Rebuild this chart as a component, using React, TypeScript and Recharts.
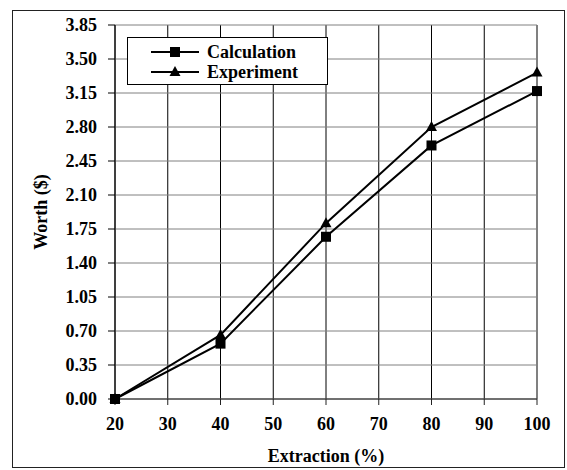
import { LineChart, Line, XAxis, YAxis, CartesianGrid, ReferenceLine } from "recharts";

const extraction = [20, 40, 60, 80, 100];
const calculation = [0, 0.57, 1.67, 2.61, 3.17];
const experiment = [0, 0.66, 1.81, 2.8, 3.36];

const xTicks = [20, 30, 40, 50, 60, 70, 80, 90, 100];
const yTicks = [0, 0.35, 0.7, 1.05, 1.4, 1.75, 2.1, 2.45, 2.8, 3.15, 3.5, 3.85];

const data = extraction.map((x, i) => ({
  x,
  calculation: calculation[i],
  experiment: experiment[i],
}));

const FONT = "'Liberation Serif', 'Times New Roman', serif";

const SquareDot = (props: any) => {
  const { cx, cy } = props;
  if (cx == null || cy == null) return null;
  return <rect key={`s-${cx}`} x={cx - 5} y={cy - 5} width={10} height={10} fill="#000" />;
};

const TriangleDot = (props: any) => {
  const { cx, cy } = props;
  if (cx == null || cy == null) return null;
  return (
    <path
      key={`t-${cx}`}
      d={`M${cx},${cy - 6} L${cx + 5.5},${cy + 4} L${cx - 5.5},${cy + 4} Z`}
      fill="#000"
    />
  );
};

function LegendBox() {
  const rows = [
    { name: "Calculation", shape: "square" },
    { name: "Experiment", shape: "triangle" },
  ];
  return (
    <div
      style={{
        position: "absolute",
        left: 127,
        top: 37,
        width: 199,
        height: 46,
        border: "1px solid #000",
        background: "#fff",
        fontFamily: FONT,
        fontWeight: "bold",
        fontSize: 18,
      }}
    >
      {rows.map((r, i) => (
        <div key={r.name} style={{ position: "absolute", left: 0, top: 4 + i * 20, height: 20, display: "flex", alignItems: "center" }}>
          <svg width={76} height={20} style={{ display: "block" }}>
            <line x1={23} y1={10} x2={71} y2={10} stroke="#000" strokeWidth={2} />
            {r.shape === "square" ? (
              <rect x={42} y={5} width={10} height={10} fill="#000" />
            ) : (
              <path d="M47,4 L52.5,14 L41.5,14 Z" fill="#000" />
            )}
          </svg>
          <span style={{ marginLeft: 3, lineHeight: "20px", color: "#000", whiteSpace: "nowrap" }}>{r.name}</span>
        </div>
      ))}
    </div>
  );
}

export default function App() {
  return (
    <div style={{ position: "absolute", left: 0, top: 0, width: 567, height: 470, background: "#fff" }}>
      <div
        style={{
          position: "absolute",
          left: 12,
          top: 10,
          width: 551,
          height: 456,
          border: "1.5px solid #222",
        }}
      />
      <LineChart
        width={567}
        height={470}
        data={data}
        margin={{ top: 25, right: 30, left: 55, bottom: 41 }}
        style={{ position: "absolute", left: 0, top: 0 }}
      >
        <CartesianGrid stroke="#000" horizontal={false} />
        <CartesianGrid stroke="#808080" vertical={false} />
        <XAxis
          dataKey="x"
          type="number"
          domain={[20, 100]}
          ticks={xTicks}
          height={30}
          tickSize={6}
          tickMargin={12}
          stroke="#222"
          tick={{ fill: "#000", fontFamily: FONT, fontWeight: "bold", fontSize: 18 }}
          label={{
            value: "Extraction (%)",
            position: "insideBottom",
            offset: -33,
            fill: "#000",
            fontFamily: FONT,
            fontWeight: "bold",
            fontSize: 18,
          }}
        />
        <YAxis
          type="number"
          domain={[0, 3.85]}
          ticks={yTicks}
          width={60}
          tickSize={7}
          tickMargin={11}
          stroke="#000"
          interval={0}
          tickFormatter={(v: number) => v.toFixed(2)}
          tick={{ fill: "#000", fontFamily: FONT, fontWeight: "bold", fontSize: 18 }}
          label={{
            value: "Worth ($)",
            angle: -90,
            position: "insideLeft",
            offset: -14,
            fill: "#000",
            fontFamily: FONT,
            fontWeight: "bold",
            fontSize: 18,
            style: { textAnchor: "middle" },
          }}
        />
        <ReferenceLine x={100} stroke="#808080" strokeWidth={2} />
        <Line
          type="linear"
          dataKey="calculation"
          stroke="#000"
          strokeWidth={2}
          dot={<SquareDot />}
          isAnimationActive={false}
        />
        <Line
          type="linear"
          dataKey="experiment"
          stroke="#000"
          strokeWidth={2}
          dot={<TriangleDot />}
          isAnimationActive={false}
        />
      </LineChart>
      <LegendBox />
    </div>
  );
}
